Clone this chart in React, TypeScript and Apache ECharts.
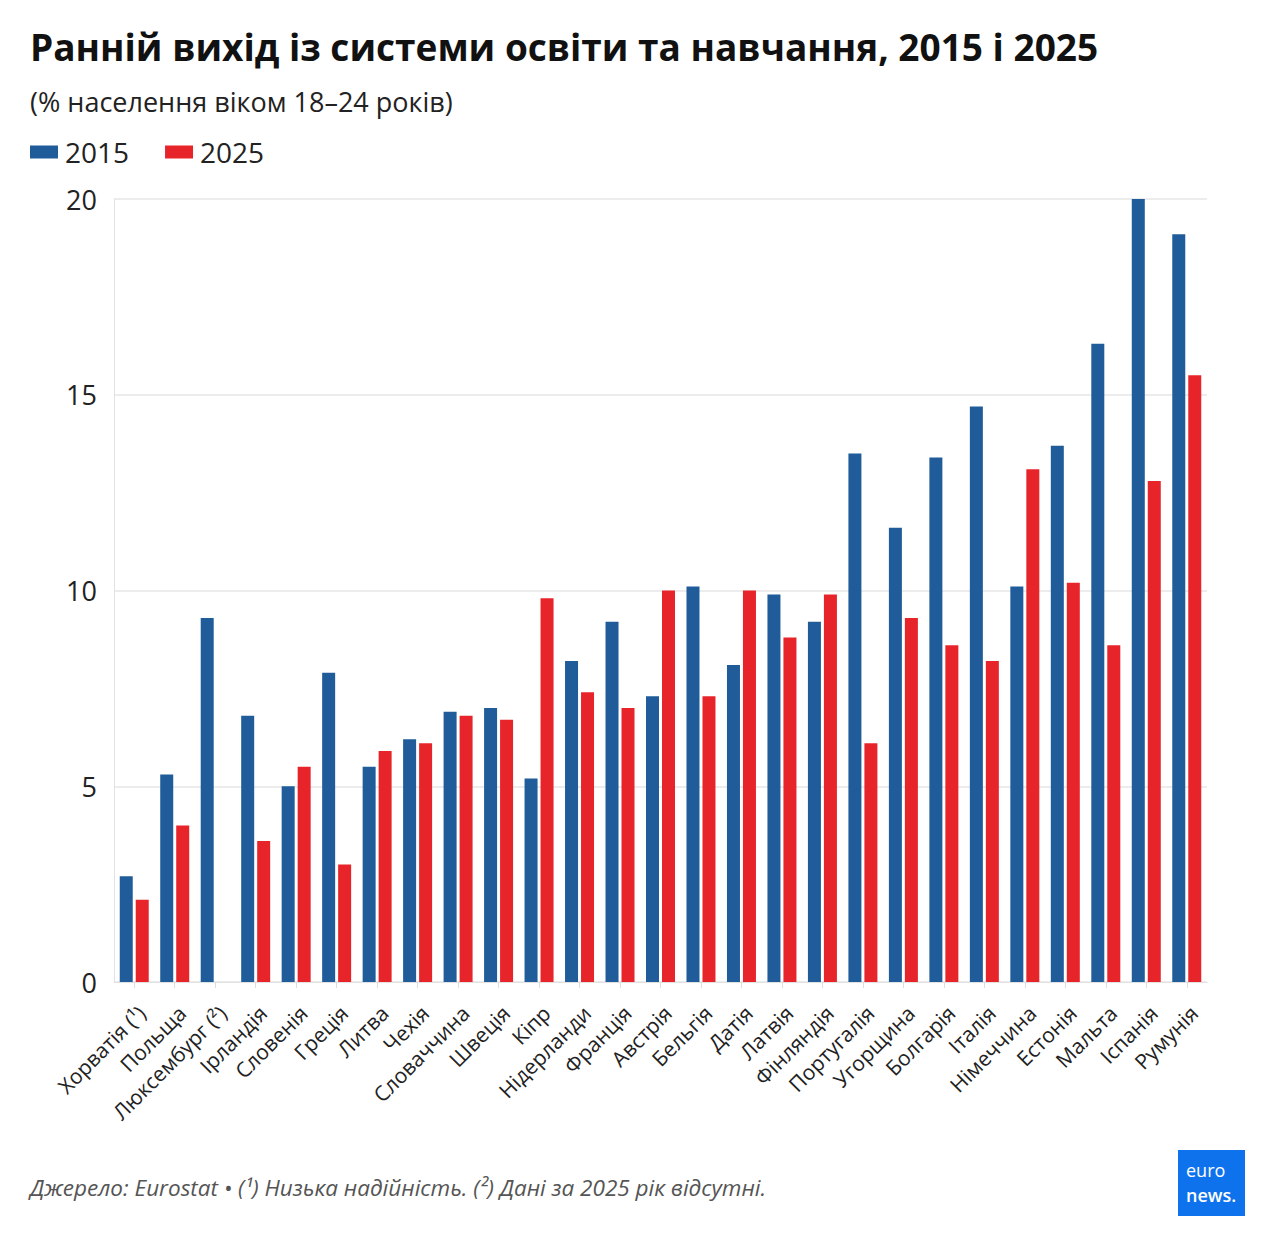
import React, { useEffect, useRef } from "react";
import * as echarts from "echarts";

const countries = [
  "Хорватія (¹)", "Польща", "Люксембург (²)", "Ірландія", "Словенія", "Греція", "Литва", "Чехія",
  "Словаччина", "Швеція", "Кіпр", "Нідерланди", "Франція", "Австрія", "Бельгія", "Датія",
  "Латвія", "Фінляндія", "Португалія", "Угорщина", "Болгарія", "Італія", "Німеччина", "Естонія",
  "Мальта", "Іспанія", "Румунія",
];
const values2015 = [
  2.7, 5.3, 9.3, 6.8, 5.0, 7.9, 5.5, 6.2, 6.9, 7.0, 5.2, 8.2, 9.2, 7.3, 10.1, 8.1,
  9.9, 9.2, 13.5, 11.6, 13.4, 14.7, 10.1, 13.7, 16.3, 20.0, 19.1,
];
const values2025: (number | null)[] = [
  2.1, 4.0, null, 3.6, 5.5, 3.0, 5.9, 6.1, 6.8, 6.7, 9.8, 7.4, 7.0, 10.0, 7.3, 10.0,
  8.8, 9.9, 6.1, 9.3, 8.6, 8.2, 13.1, 10.2, 8.6, 12.8, 15.5,
];
const yTicks = [0, 5, 10, 15, 20];

const titleText = "Ранній вихід із системи освіти та навчання, 2015 і 2025";
const subtitleText = "(% населення віком 18–24 років)";
const footerText = "Джерело: Eurostat • (¹) Низька надійність. (²) Дані за 2025 рік відсутні.";

const BLUE = "#1f5c99";
const RED = "#e8242b";
const FONT = "'Open Sans', 'Noto Sans', sans-serif";

export default function App() {
  const ref = useRef<HTMLDivElement>(null);
  useEffect(() => {
    document.body.style.margin = "0";
    if (!ref.current) return;
    const chart = echarts.init(ref.current, null, { renderer: "svg" });
    chart.setOption({
      animation: false,
      backgroundColor: "#ffffff",
      textStyle: { fontFamily: FONT },
      title: [
        {
          text: titleText,
          left: 25,
          top: 23,
          textStyle: { fontSize: 37, fontWeight: "bold", color: "#111", fontFamily: FONT },
        },
        {
          text: subtitleText,
          left: 25,
          top: 83,
          textStyle: { fontSize: 27, fontWeight: "normal", color: "#222", fontFamily: FONT },
        },
      ],
      legend: {
        left: 30,
        top: 138,
        padding: 0,
        itemWidth: 28,
        itemHeight: 13,
        itemGap: 36,
        icon: "rect",
        textStyle: { fontSize: 28, color: "#222", fontFamily: FONT, padding: [0, 0, 0, 2] },
        data: ["2015", "2025"],
      },
      grid: { left: 114, right: 64, top: 199, bottom: 256, containLabel: false },
      xAxis: {
        type: "category",
        data: countries,
        axisLine: { show: true, lineStyle: { color: "#e2e2e2" } },
        axisTick: { show: true, alignWithLabel: true, length: 6, lineStyle: { color: "#dddddd" } },
        axisLabel: {
          rotate: 45,
          interval: 0,
          fontSize: 21,
          color: "#222",
          margin: 20,
          verticalAlign: "top",
          fontFamily: FONT,
        },
      },
      yAxis: {
        type: "value",
        min: 0,
        max: 20,
        interval: 5,
        axisLine: { show: true, lineStyle: { color: "#e2e2e2" } },
        axisTick: { show: false },
        splitLine: { show: true, lineStyle: { color: "#e6e6e6", width: 1.5 } },
        axisLabel: {
          fontSize: 27,
          color: "#222",
          margin: 17,
          fontFamily: FONT,
          formatter: (v: number) => (yTicks.includes(v) ? String(v) : ""),
        },
      },
      series: [
        {
          name: "2015",
          type: "bar",
          data: values2015,
          barWidth: 13,
          barGap: "23%",
          itemStyle: { color: BLUE },
        },
        {
          name: "2025",
          type: "bar",
          data: values2025,
          barWidth: 13,
          itemStyle: { color: RED },
        },
      ],
      graphic: [
        {
          type: "text",
          left: 30,
          top: 1176,
          style: {
            text: footerText,
            fontSize: 22.5,
            fontStyle: "italic",
            fill: "#555",
            fontFamily: FONT,
          },
        },
        {
          type: "rect",
          shape: { x: 1178, y: 1150, width: 67, height: 66 },
          style: { fill: "#0f72ed" },
        },
        {
          type: "text",
          x: 1186,
          y: 1170,
          style: {
            text: "euro",
            fontSize: 18,
            lineHeight: 18,
            fill: "#fff",
            align: "left",
            verticalAlign: "middle",
            fontFamily: FONT,
          },
        },
        {
          type: "text",
          x: 1186,
          y: 1195,
          style: {
            text: "news.",
            fontSize: 18,
            lineHeight: 18,
            fontWeight: 600,
            fill: "#fff",
            align: "left",
            verticalAlign: "middle",
            fontFamily: FONT,
          },
        },
      ],
    });
    return () => chart.dispose();
  }, []);
  return <div ref={ref} style={{ width: 1271, height: 1238 }} />;
}
